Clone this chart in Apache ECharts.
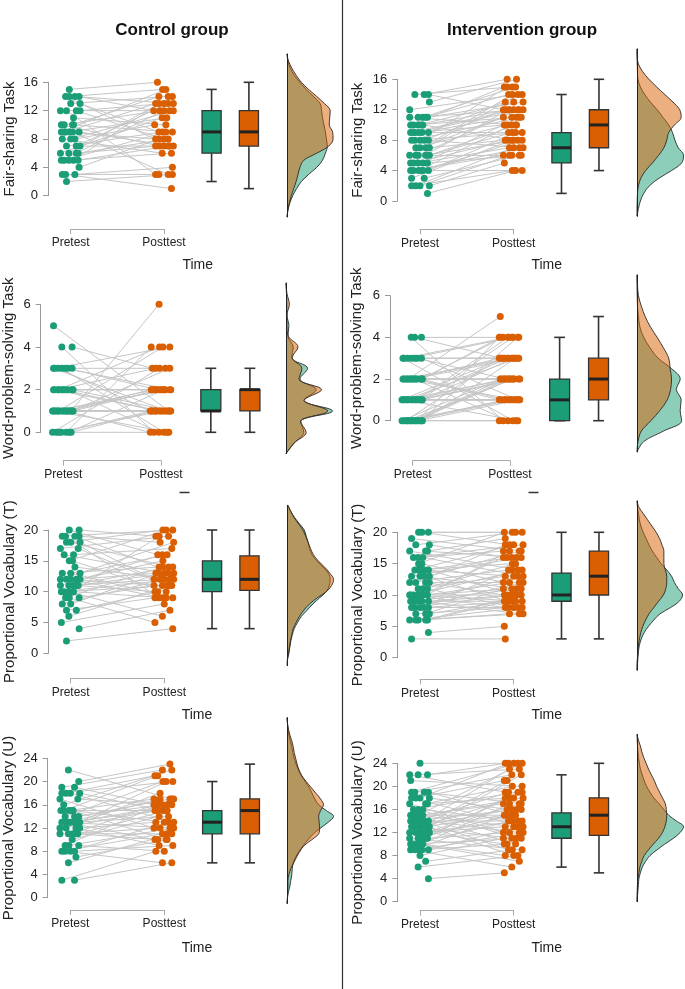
<!DOCTYPE html>
<html><head><meta charset="utf-8">
<script src="https://cdn.jsdelivr.net/npm/echarts@6/dist/echarts.min.js"></script>
<style>html,body{margin:0;padding:0;background:#fff}#c{width:685px;height:989px}</style>
</head><body><div id="c"></div>
<script>
// ---------------- DATA ----------------
const groupTitles = ['Control group', 'Intervention group'];
const taskNames = ['Fair-sharing Task', 'Word-problem-solving Task', 'Proportional Vocabulary (T)', 'Proportional Vocabulary (U)'];
const timeLabels = ['Pretest', 'Posttest'];
const timeAxisName = 'Time';

// Control: Fair-sharing
const ctrlFairPre  = [15,14,14,14,14,13,13,12,12,12,12,11,10,10,10,10,9,9,9,9,9,9,8,8,8,7,7,7,6,6,6,6,5,5,5,5,5,4,3,3,3,2];
const ctrlFairPost = [16,13,7,12,15,9,14,12,8,3,13,10,14,7,12,9,13,7,11,3,15,8,12,6,10,13,9,7,14,8,11,7,12,9,13,6,7,8,3,4,1,3];
const ctrlFairBoxPre  = [2, 6, 9, 12, 15];
const ctrlFairBoxPost = [1, 7, 9, 12, 16];
const ctrlFairDensLevels = [-3,-2,-1,0,1,2,3,4,5,6,7,8,9,10,11,12,13,14,15,16,17,18,19,20];
const ctrlFairDensPre  = [0,.02,.06,.12,.20,.30,.45,.62,.74,.80,.84,.82,.80,.77,.74,.72,.69,.55,.40,.27,.15,.07,.02,0];
const ctrlFairDensPost = [0,.02,.05,.09,.14,.19,.23,.27,.35,.62,.87,.96,.95,.88,.89,.90,.78,.62,.45,.30,.19,.10,.03,0];

// Control: Word-problem-solving
const ctrlWordPre  = [5,4,4,3,3,3,3,3,3,3,2,2,2,2,2,2,2,2,2,2,1,1,1,1,1,1,1,1,1,1,1,1,1,1,1,0,0,0,0,0,0,0];
const ctrlWordPost = [1,3,0,4,2,1,3,0,2,1,4,2,1,2,0,3,1,2,2,1,6,2,1,4,2,1,0,2,1,3,1,2,1,2,0,1,4,1,1,3,2,0];
const ctrlWordBoxPre  = [0, 1, 1, 2, 3];
const ctrlWordBoxPost = [0, 1, 2, 2, 3];
const ctrlWordDensLevels = [-1,-0.5,0,0.5,1,1.5,2,2.5,3,3.5,4,4.5,5,5.5,6,6.5,7];
const ctrlWordDensPre  = [0,.17,.37,.31,.97,.37,.63,.29,.45,.12,.15,.04,.06,.02,.02,.01,0];
const ctrlWordDensPost = [0,.17,.42,.30,.87,.38,.74,.27,.33,.13,.25,.05,.02,.02,.07,.02,0];

// Control: Proportional Vocabulary (T)
const ctrlVocTPre  = [20,20,19,19,19,19,18,18,18,17,17,16,16,15,15,14,13,13,13,12,12,12,12,12,11,11,11,11,11,10,10,10,10,10,9,9,9,8,8,7,7,6,5,4,2];
const ctrlVocTPost = [19,16,20,13,9,18,20,12,14,11,19,13,17,20,10,12,16,9,14,18,13,11,15,9,12,14,10,16,13,19,12,11,9,6,14,11,5,13,12,10,9,11,8,7,4];
const ctrlVocTBoxPre  = [4, 10, 12, 15, 20];
const ctrlVocTBoxPost = [4, 10.2, 12, 15.8, 20];
const ctrlVocTDensLevels = [-2,-1,0,1,2,3,4,5,6,7,8,9,10,11,12,13,14,15,16,17,18,19,20,21,22,23,24];
const ctrlVocTDensPre  = [.005,.01,.04,.06,.08,.11,.15,.22,.30,.42,.54,.68,.82,.88,.90,.86,.75,.62,.52,.47,.44,.40,.36,.26,.16,.08,.02];
const ctrlVocTDensPost = [.005,.01,.03,.05,.07,.10,.13,.19,.26,.35,.47,.63,.82,.93,.97,.89,.78,.65,.55,.49,.44,.39,.33,.24,.15,.08,.02];

// Control: Proportional Vocabulary (U)
const ctrlVocUPre  = [22,20,19,19,18,18,18,18,17,17,16,15,15,15,15,15,14,14,14,13,13,13,13,13,13,13,12,12,12,12,11,11,11,11,11,10,9,9,9,8,8,8,8,7,6,3,3];
const ctrlVocUPost = [17,23,22,16,21,15,13,20,16,12,22,17,10,15,21,13,16,20,17,20,15,12,16,10,14,17,15,9,18,13,16,12,15,11,10,14,17,8,12,13,11,9,6,10,11,8,6];
const ctrlVocUBoxPre  = [6, 11, 13, 15, 20];
const ctrlVocUBoxPost = [6, 11, 15, 17, 23];
const ctrlVocUDensLevels = [-1,0,1,2,3,4,5,6,7,8,9,10,11,12,13,14,15,16,17,18,19,20,21,22,23,24,25,26,27,28,29,30,31];
const ctrlVocUDensPre  = [0,.01,.03,.06,.08,.10,.11,.13,.18,.25,.34,.44,.55,.70,.86,.97,.82,.66,.58,.52,.46,.38,.30,.24,.19,.15,.12,.10,.07,.04,.02,.01,0];
const ctrlVocUDensPost = [0,.01,.01,.02,.02,.04,.08,.14,.20,.27,.36,.52,.66,.68,.67,.66,.70,.76,.70,.60,.50,.40,.31,.25,.21,.18,.15,.13,.10,.06,.03,.01,0];

// Intervention: Fair-sharing
const intFairPre  = [14,14,14,13,12,11,11,11,11,11,10,10,10,10,10,9,9,9,9,9,9,8,8,8,8,8,7,7,7,7,6,6,6,6,6,6,5,5,5,5,5,4,4,4,4,4,4,3,3,2,2,2,2,1];
const intFairPost = [16,15,12,16,14,15,12,13,10,14,12,15,11,8,13,12,14,11,9,12,10,15,11,12,9,7,13,10,8,11,12,9,14,8,6,10,12,8,11,7,6,9,10,8,6,7,4,8,6,7,5,6,4,4];
const intFairBoxPre  = [1, 5, 7, 9, 14];
const intFairBoxPost = [4, 7, 10, 12, 16];
const intFairDensLevels = [-2,-1,0,1,2,3,4,5,6,7,8,9,10,11,12,13,14,15,16,17,18,19,20];
const intFairDensPre  = [0,.03,.07,.14,.26,.46,.72,.93,.97,.86,.79,.74,.66,.54,.42,.28,.16,.07,.02,.01,.005,0,0];
const intFairDensPost = [0,0,.005,.01,.03,.08,.18,.32,.45,.56,.62,.66,.78,.92,.89,.75,.58,.41,.25,.12,.03,.005,0];

// Intervention: Word-problem-solving
const intWordPre  = [4,4,4,3,3,3,3,3,3,3,2,2,2,2,2,2,2,2,2,2,2,2,2,2,1,1,1,1,1,1,1,1,1,1,1,1,1,1,1,0,0,0,0,0,0,0,0,0,0,0,0,0,0,0];
const intWordPost = [4,0,3,4,2,3,1,4,3,0,5,4,3,2,1,3,4,2,0,3,1,2,3,1,4,3,2,1,3,2,0,4,1,2,3,1,2,3,1,3,2,1,4,2,1,0,3,2,1,4,2,0,1,2];
const intWordBoxPre  = [0, 0, 1, 2, 4];
const intWordBoxPost = [0, 1, 2, 3, 5];
const intWordDensLevels = [-1.5,-1,-0.5,0,0.5,1,1.5,2,2.5,3,3.5,4,4.5,5,5.5,6,6.5,7];
const intWordDensPre  = [0,.14,.55,.93,.90,.92,.82,.90,.72,.44,.27,.14,.06,.03,.01,.005,0,0];
const intWordDensPost = [0,.02,.09,.29,.48,.63,.70,.72,.69,.66,.55,.42,.28,.17,.09,.03,.01,0];

// Intervention: Proportional Vocabulary (T)
const intVocTPre  = [20,20,20,19,18,18,17,17,17,16,16,16,15,15,14,14,14,14,14,13,13,13,13,12,12,12,12,11,11,11,10,10,10,10,10,10,10,9,9,9,9,9,9,8,8,8,8,8,7,7,7,6,6,6,6,6,4,3];
const intVocTPost = [20,20,18,17,20,16,19,14,16,18,13,17,20,12,16,18,10,15,13,17,11,16,9,14,10,18,12,15,13,8,16,9,14,11,10,12,8,17,10,13,7,11,9,14,10,9,12,8,11,8,9,7,9,8,10,7,5,3];
const intVocTBoxPre  = [3, 9, 10, 13.5, 20];
const intVocTBoxPost = [3, 10, 13, 17, 20];
const intVocTDensLevels = [-2,-1,0,1,2,3,4,5,6,7,8,9,10,11,12,13,14,15,16,17,18,19,20,21,22,23,24,25];
const intVocTDensPre  = [0,.01,.02,.03,.05,.09,.15,.24,.35,.48,.70,.88,.95,.86,.78,.72,.62,.50,.41,.32,.25,.19,.13,.08,.05,.03,.01,0];
const intVocTDensPost = [0,0,.01,.02,.03,.05,.08,.12,.18,.25,.35,.45,.55,.60,.62,.62,.59,.56,.56,.56,.52,.47,.40,.31,.22,.13,.04,0];

// Intervention: Proportional Vocabulary (U)
const intVocUPre  = [24,22,22,22,21,19,19,19,19,18,18,18,18,17,17,17,16,16,16,15,15,15,15,15,15,14,14,14,14,14,14,13,13,13,13,13,13,12,12,12,12,12,11,11,11,11,11,10,10,10,10,10,9,9,9,9,9,8,7,6,4];
const intVocUPost = [24,23,24,19,20,24,17,22,15,21,16,24,13,18,12,20,19,14,11,24,17,15,10,18,13,23,16,12,19,9,14,22,18,11,15,16,8,21,17,14,10,13,19,15,12,9,18,17,14,11,8,7,16,13,12,10,6,11,9,8,5];
const intVocUBoxPre  = [6, 11, 13, 15.4, 22];
const intVocUBoxPost = [5, 11.5, 15, 18, 24];
const intVocUDensLevels = [0,1,2,3,4,5,6,7,8,9,10,11,12,13,14,15,16,17,18,19,20,21,22,23,24,25,26,27,28,29];
const intVocUDensPre  = [0,.01,.02,.03,.04,.07,.11,.18,.27,.42,.58,.76,.90,.97,.82,.66,.56,.46,.35,.27,.20,.15,.11,.07,.05,.03,.02,.01,.005,0];
const intVocUDensPost = [0,0,.005,.01,.02,.04,.06,.10,.15,.24,.34,.45,.53,.58,.61,.62,.61,.59,.53,.47,.41,.36,.30,.24,.19,.14,.10,.07,.03,0];

// ---------------- LAYOUT / STYLE ----------------
const FONT = '"Liberation Sans", Arial, Helvetica, sans-serif';
const GREEN = '#1b9e77', ORANGE = '#d95f02';
const BOX_X = [2.51, 2.91], BOX_W = 0.205;
const JIT = [-0.07, 0.03, -0.02, 0.08, -0.11, 0.06, -0.045, 0.1, 0.0, -0.09, 0.045, -0.055, 0.09, -0.015, 0.02, -0.1];

const panels = [
  {name: taskNames[0], pre: ctrlFairPre, post: ctrlFairPost, bPre: ctrlFairBoxPre, bPost: ctrlFairBoxPost, lv: ctrlFairDensLevels, dPre: ctrlFairDensPre, dPost: ctrlFairDensPost, yMax: 16, step: 4,
   L: {ax: 48, pre: 70.7, post: 164, yTop: 82.3, yBot: 195.7, xLine: 229, dBase: 287, gap: 31, time: [197.7, 265]}},
  {name: taskNames[1], pre: ctrlWordPre, post: ctrlWordPost, bPre: ctrlWordBoxPre, bPost: ctrlWordBoxPost, lv: ctrlWordDensLevels, dPre: ctrlWordDensPre, dPost: ctrlWordDensPost, yMax: 6, step: 2,
   L: {ax: 40.7, pre: 63.3, post: 161, yTop: 304.3, yBot: 432.3, xLine: 460.7, dBase: 286, gap: 24, time: null, cut: [179.5, 189.5]}},
  {name: taskNames[2], pre: ctrlVocTPre, post: ctrlVocTPost, bPre: ctrlVocTBoxPre, bPost: ctrlVocTBoxPost, lv: ctrlVocTDensLevels, dPre: ctrlVocTDensPre, dPost: ctrlVocTDensPost, yMax: 20, step: 5,
   L: {ax: 48.3, pre: 70.7, post: 164.3, yTop: 530, yBot: 653.3, xLine: 678.3, dBase: 287, gap: 31, time: [197, 715]}},
  {name: taskNames[3], pre: ctrlVocUPre, post: ctrlVocUPost, bPre: ctrlVocUBoxPre, bPost: ctrlVocUBoxPost, lv: ctrlVocUDensLevels, dPre: ctrlVocUDensPre, dPost: ctrlVocUDensPost, yMax: 24, step: 4,
   L: {ax: 47.7, pre: 70.3, post: 164.3, yTop: 758.3, yBot: 897.7, xLine: 910, dBase: 287, gap: 31, time: [197, 948.3]}},
  {name: taskNames[0], pre: intFairPre, post: intFairPost, bPre: intFairBoxPre, bPost: intFairBoxPost, lv: intFairDensLevels, dPre: intFairDensPre, dPost: intFairDensPost, yMax: 16, step: 4,
   L: {ax: 397.3, pre: 420, post: 513.7, yTop: 79.3, yBot: 201, xLine: 229.3, dBase: 637, gap: 32, time: [546.7, 265]}},
  {name: taskNames[1], pre: intWordPre, post: intWordPost, bPre: intWordBoxPre, bPost: intWordBoxPost, lv: intWordDensLevels, dPre: intWordDensPre, dPost: intWordDensPost, yMax: 6, step: 2,
   L: {ax: 390, pre: 412.7, post: 510, yTop: 295.7, yBot: 420.7, xLine: 460.7, dBase: 637, gap: 26, time: null, cut: [528.5, 538.5]}},
  {name: taskNames[2], pre: intVocTPre, post: intVocTPost, bPre: intVocTBoxPre, bPost: intVocTBoxPost, lv: intVocTDensLevels, dPre: intVocTDensPre, dPost: intVocTDensPost, yMax: 20, step: 5,
   L: {ax: 397.3, pre: 420, post: 513.7, yTop: 532.3, yBot: 657.7, xLine: 679.3, dBase: 637, gap: 32, time: [546.7, 715]}},
  {name: taskNames[3], pre: intVocUPre, post: intVocUPost, bPre: intVocUBoxPre, bPost: intVocUBoxPost, lv: intVocUDensLevels, dPre: intVocUDensPre, dPost: intVocUDensPost, yMax: 24, step: 4,
   L: {ax: 397.3, pre: 420, post: 513.7, yTop: 763.3, yBot: 901.7, xLine: 910.7, dBase: 637, gap: 32, time: [546.7, 948.3]}}
];

function jitter(vals, base) {
  const seen = {};
  return vals.map(v => {
    const k = seen[v] = (seen[v] || 0) + 1;
    return base + JIT[(k - 1 + Math.round(v * 3)) % JIT.length];
  });
}

const grids = [], xAxes = [], yAxes = [], series = [], graphics = [];

function boxRender(color) {
  return function (params, api) {
    const x = api.value(0);
    const pMin = api.coord([x, api.value(1)]), pQ1 = api.coord([x, api.value(2)]),
          pMed = api.coord([x, api.value(3)]), pQ3 = api.coord([x, api.value(4)]),
          pMax = api.coord([x, api.value(5)]);
    const w = api.size([BOX_W, 0])[0];
    const cx = pMed[0], cap = w * 0.27;
    const st = {stroke: '#333', lineWidth: 1.6};
    return {type: 'group', children: [
      {type: 'line', shape: {x1: cx, y1: pMax[1], x2: cx, y2: pQ3[1]}, style: st},
      {type: 'line', shape: {x1: cx, y1: pQ1[1], x2: cx, y2: pMin[1]}, style: st},
      {type: 'line', shape: {x1: cx - cap, y1: pMax[1], x2: cx + cap, y2: pMax[1]}, style: st},
      {type: 'line', shape: {x1: cx - cap, y1: pMin[1], x2: cx + cap, y2: pMin[1]}, style: st},
      {type: 'rect', shape: {x: cx - w / 2, y: pQ3[1], width: w, height: Math.max(pQ1[1] - pQ3[1], 0)}, style: {fill: color, stroke: '#333', lineWidth: 1.3}},
      {type: 'line', shape: {x1: cx - w / 2, y1: pMed[1], x2: cx + w / 2, y2: pMed[1]}, style: {stroke: '#222', lineWidth: 3}}
    ]};
  };
}

panels.forEach((P, i) => {
  const L = P.L;
  const u = L.post - L.pre;
  const xmin = 1 - (L.pre - L.ax) / u, xmax = 3.15;
  const gMain = grids.length;
  grids.push({left: L.ax, top: L.yTop, width: (xmax - xmin) * u, height: L.yBot - L.yTop});
  xAxes.push({gridIndex: gMain, type: 'value', min: xmin, max: xmax, show: false});
  yAxes.push({gridIndex: gMain, type: 'value', min: 0, max: P.yMax, interval: P.step,
    axisLine: {show: true, lineStyle: {color: '#999', width: 1}},
    axisTick: {show: true, length: 5, lineStyle: {color: '#999', width: 1}},
    axisLabel: {color: '#222', fontSize: 13, margin: 10, fontFamily: FONT},
    splitLine: {show: false},
    name: P.name, nameLocation: 'middle', nameGap: L.gap,
    nameTextStyle: {color: '#222', fontSize: 15, fontFamily: FONT}});

  const xPre = jitter(P.pre, 1), xPost = jitter(P.post, 2);
  series.push({type: 'custom', xAxisIndex: gMain, yAxisIndex: gMain, silent: true, z: 1,
    data: P.pre.map((v, k) => [xPre[k], v, xPost[k], P.post[k]]),
    encode: {x: [0, 2], y: [1, 3]},
    renderItem: function (params, api) {
      const a = api.coord([api.value(0), api.value(1)]), b = api.coord([api.value(2), api.value(3)]);
      return {type: 'line', shape: {x1: a[0], y1: a[1], x2: b[0], y2: b[1]}, style: {stroke: '#c6c6c6', lineWidth: 1}};
    }});
  series.push({type: 'scatter', xAxisIndex: gMain, yAxisIndex: gMain, z: 3, silent: true, clip: false,
    symbolSize: 7, itemStyle: {color: GREEN, opacity: 1}, data: P.pre.map((v, k) => [xPre[k], v])});
  series.push({type: 'scatter', xAxisIndex: gMain, yAxisIndex: gMain, z: 3, silent: true, clip: false,
    symbolSize: 7, itemStyle: {color: ORANGE, opacity: 1}, data: P.post.map((v, k) => [xPost[k], v])});
  series.push({type: 'custom', xAxisIndex: gMain, yAxisIndex: gMain, z: 4, silent: true,
    data: [[BOX_X[0]].concat(P.bPre)], encode: {x: 0, y: [1, 2, 3, 4, 5]}, renderItem: boxRender(GREEN)});
  series.push({type: 'custom', xAxisIndex: gMain, yAxisIndex: gMain, z: 4, silent: true,
    data: [[BOX_X[1]].concat(P.bPost)], encode: {x: 0, y: [1, 2, 3, 4, 5]}, renderItem: boxRender(ORANGE)});

  // time axis (Pretest / Posttest)
  const gT = grids.length;
  grids.push({left: L.pre, top: L.xLine - 1, width: u, height: 1});
  xAxes.push({gridIndex: gT, type: 'value', min: 1, max: 2, interval: 1, position: 'bottom',
    axisLine: {show: true, onZero: false, lineStyle: {color: '#aaa', width: 1}},
    axisTick: {show: true, length: 5, lineStyle: {color: '#aaa'}},
    axisLabel: {color: '#222', fontSize: 12, margin: 8, fontFamily: FONT,
      formatter: v => (v === 1 ? timeLabels[0] : (v === 2 ? timeLabels[1] : ''))},
    splitLine: {show: false}});
  yAxes.push({gridIndex: gT, type: 'value', show: false});

  // density (rotated)
  const yOf = v => L.yBot - v / P.yMax * (L.yBot - L.yTop);
  const top = yOf(P.lv[P.lv.length - 1]), bot = yOf(P.lv[0]);
  const gD = grids.length;
  grids.push({left: L.dBase, top: top, width: 48, height: bot - top});
  xAxes.push({gridIndex: gD, type: 'value', min: 0, max: 1, show: false});
  yAxes.push({gridIndex: gD, type: 'category', data: P.lv.map(String), boundaryGap: false,
    axisLine: {show: true, lineStyle: {color: '#222', width: 1}}, axisTick: {show: false}, axisLabel: {show: false}, splitLine: {show: false}, z: 10});
  [[P.dPre, GREEN], [P.dPost, ORANGE]].forEach(([d, c], j) => {
    series.push({type: 'line', xAxisIndex: gD, yAxisIndex: gD, data: d, smooth: 0.35, symbol: 'none', silent: true, z: 2 + j,
      lineStyle: {color: '#2a2a2a', width: 0.9}, areaStyle: {color: c, opacity: 0.5}});
  });

  if (L.time) {
    graphics.push({type: 'text', x: L.time[0], y: L.time[1], style: {text: timeAxisName, fill: '#222', font: '14px ' + FONT, textAlign: 'center', textVerticalAlign: 'middle'}});
  }
  if (L.cut) {
    // top sliver of the clipped "Time" label under the word-problem panels
    graphics.push({type: 'line', shape: {x1: L.cut[0], y1: 492.5, x2: L.cut[1], y2: 492.5}, style: {stroke: '#333', lineWidth: 1.5}});
  }
});

graphics.push({type: 'text', x: 172, y: 30, style: {text: groupTitles[0], fill: '#111', font: 'bold 17px ' + FONT, textAlign: 'center', textVerticalAlign: 'middle'}});
graphics.push({type: 'text', x: 522, y: 30, style: {text: groupTitles[1], fill: '#111', font: 'bold 17px ' + FONT, textAlign: 'center', textVerticalAlign: 'middle'}});
graphics.push({type: 'line', shape: {x1: 342.5, y1: 0, x2: 342.5, y2: 989}, style: {stroke: '#333', lineWidth: 1.2}});

const chart = echarts.init(document.getElementById('c'), null, {renderer: 'canvas'});
chart.setOption({
  animation: false,
  backgroundColor: '#fff',
  textStyle: {fontFamily: FONT},
  grid: grids, xAxis: xAxes, yAxis: yAxes, series: series, graphic: graphics
});
</script></body></html>
